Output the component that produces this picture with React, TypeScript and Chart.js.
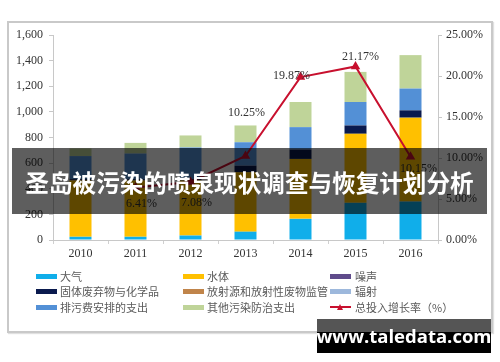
import React, { useEffect, useRef } from "react";
import { Chart, registerables } from "chart.js";

Chart.register(...registerables);

const years = ["2010", "2011", "2012", "2013", "2014", "2015", "2016"];
const air = [25, 25, 35, 65, 165, 290, 300];
const water = [440, 440, 430, 463, 468, 539, 655];
const noise = [0, 0, 0, 0, 0, 0, 0];
const solid = [10, 10, 10, 52, 73, 65, 57];
const radioSource = [0, 0, 0, 0, 0, 0, 0];
const radiation = [0, 0, 0, 0, 0, 0, 0];
const sewageFee = [180, 200, 247, 183, 175, 183, 170];
const otherPollution = [60, 83, 94, 131, 196, 235, 261];
const growthRate = [null, 6.41, 7.08, 10.25, 19.87, 21.17, 10.15];
const growthLabels = ["", "6.41%", "7.08%", "10.25%", "19.87%", "21.17%", "10.15%"];
const labelShift = [
  [0, 0],
  [6, 16],
  [6, 21],
  [1, -43],
  [-9, -1],
  [5, -10],
  [8, 12],
];

const seriesNames = [
  "大气",
  "水体",
  "噪声",
  "固体废弃物与化学品",
  "放射源和放射性废物监管",
  "辐射",
  "排污费安排的支出",
  "其他污染防治支出",
  "总投入增长率（%）",
];
const seriesColors = [
  "#10AEEA",
  "#FFC000",
  "#5F4B8B",
  "#0A1A4E",
  "#C0844A",
  "#9DB8DC",
  "#5390D6",
  "#BFD499",
  "#C00000",
];

const LINE = "#C8102E";

export default function App() {
  const ref = useRef<HTMLCanvasElement | null>(null);

  useEffect(() => {
    document.body.style.margin = "0";
    const barSeries = [air, water, noise, solid, radioSource, radiation, sewageFee, otherPollution];
    const labelPlugin = {
      id: "growthLabels",
      afterDatasetsDraw(chart: any) {
        const meta = chart.getDatasetMeta(8);
        const ctx = chart.ctx;
        ctx.save();
        ctx.font = "12px 'Liberation Serif', serif";
        ctx.fillStyle = "#333333";
        ctx.textAlign = "center";
        ctx.textBaseline = "middle";
        meta.data.forEach((pt: any, i: number) => {
          if (growthRate[i] == null) return;
          ctx.fillText(growthLabels[i], pt.x + labelShift[i][0], pt.y + labelShift[i][1]);
        });
        ctx.restore();
      },
    };
    const tickFont = { family: "'Liberation Serif', serif", size: 12 };
    const chart = new Chart(ref.current as HTMLCanvasElement, {
      type: "bar",
      data: {
        labels: years,
        datasets: [
          ...barSeries.map((d, i) => ({
            type: "bar" as const,
            label: seriesNames[i],
            data: d,
            backgroundColor: seriesColors[i],
            borderWidth: 0,
            yAxisID: "y",
            order: 1,
            barPercentage: 0.4,
            categoryPercentage: 1,
          })),
          {
            type: "line" as const,
            label: seriesNames[8],
            data: growthRate,
            borderColor: LINE,
            backgroundColor: LINE,
            borderWidth: 2,
            pointStyle: "triangle",
            pointRadius: 3.5,
            yAxisID: "y1",
            order: 0,
            spanGaps: false,
          },
        ],
      } as any,
      options: {
        animation: false,
        responsive: false,
        maintainAspectRatio: false,
        layout: { padding: { left: 8, right: 10, top: 35, bottom: 97 } },
        plugins: { legend: { display: false }, tooltip: { enabled: false } },
        scales: {
          x: {
            stacked: true,
            afterFit: (s: any) => {
              s.height = 25;
            },
            grid: { drawOnChartArea: false, drawTicks: true, tickLength: 4, color: "#D0D0D0", offset: true },
            border: { color: "#C8C8C8" },
            ticks: { font: tickFont, color: "#333333", padding: 3 },
          },
          y: {
            stacked: true,
            position: "left",
            min: 0,
            max: 1600,
            afterFit: (s: any) => {
              s.width = 45;
            },
            grid: { drawOnChartArea: false, drawTicks: true, tickLength: 4, color: "#C8C8C8" },
            border: { color: "#C8C8C8" },
            ticks: {
              stepSize: 200,
              font: tickFont,
              color: "#333333",
              padding: 6,
              callback: (v: any) => Number(v).toLocaleString("en-US"),
            },
          },
          y1: {
            position: "right",
            min: 0,
            max: 25,
            afterFit: (s: any) => {
              s.width = 52;
            },
            grid: { drawOnChartArea: false, drawTicks: true, tickLength: 4, color: "#C8C8C8" },
            border: { color: "#C8C8C8" },
            ticks: {
              stepSize: 5,
              font: tickFont,
              color: "#333333",
              padding: 4,
              callback: (v: any) => Number(v).toFixed(2) + "%",
            },
          },
        },
      } as any,
      plugins: [labelPlugin],
    });
    return () => chart.destroy();
  }, []);

  const colX = [[36, 60], [183, 207], [330, 355]];
  const rowY = [276, 291, 307];

  return (
    <div style={{ position: "relative", width: 500, height: 362, background: "#ffffff", overflow: "hidden" }}>
      <div
        style={{
          position: "absolute",
          left: 7,
          top: 21,
          width: 482,
          height: 308,
          border: "2px solid #C9C9C9",
          boxShadow: "1px 1px 1px #E0E0E0",
        }}
      />
      <canvas ref={ref} width={500} height={362} style={{ position: "absolute", left: 0, top: 0, width: 500, height: 362 }} />
      {seriesNames.map((name, i) => {
        const col = i % 3;
        const row = Math.floor(i / 3);
        const isLine = i === 8;
        return (
          <React.Fragment key={name}>
            {isLine ? (
              <div style={{ position: "absolute", left: colX[col][0], top: rowY[row] - 6, width: 21, height: 12 }}>
                <div style={{ position: "absolute", left: 0, top: 5, width: 21, height: 2, background: LINE }} />
                <div
                  style={{
                    position: "absolute",
                    left: 7,
                    top: 3,
                    width: 0,
                    height: 0,
                    borderLeft: "3.5px solid transparent",
                    borderRight: "3.5px solid transparent",
                    borderBottom: "6px solid " + LINE,
                  }}
                />
              </div>
            ) : (
              <div
                style={{
                  position: "absolute",
                  left: colX[col][0],
                  top: rowY[row] - 2.5,
                  width: 21,
                  height: 5,
                  background: seriesColors[i],
                }}
              />
            )}
            <div
              style={{
                position: "absolute",
                left: colX[col][1],
                top: rowY[row] - 8,
                height: 16,
                lineHeight: "16px",
                fontSize: 11,
                color: "#5A5A5A",
                fontFamily: "'Noto Sans CJK SC', sans-serif",
                whiteSpace: "nowrap",
              }}
            >
              {name}
            </div>
          </React.Fragment>
        );
      })}
      <div
        style={{
          position: "absolute",
          left: 12,
          top: 148,
          width: 475,
          height: 66,
          background: "rgba(0,0,0,0.63)",
          display: "flex",
          alignItems: "center",
          justifyContent: "center",
          color: "#ffffff",
          fontFamily: "'Noto Sans CJK SC', sans-serif",
          fontWeight: 700,
          fontSize: 23.6,
          whiteSpace: "nowrap",
          paddingTop: 2,
          boxSizing: "border-box",
        }}
      >
        圣岛被污染的喷泉现状调查与恢复计划分析
      </div>
      <div style={{ position: "absolute", left: 317, top: 319, width: 174, height: 13, background: "#555555" }} />
      <div style={{ position: "absolute", left: 317, top: 332, width: 174, height: 21, background: "#000000" }} />
      <div
        style={{
          position: "absolute",
          left: 317,
          top: 319,
          width: 174,
          height: 34,
          display: "flex",
          alignItems: "center",
          justifyContent: "center",
          color: "#ffffff",
          fontFamily: "'Open Sans', 'Noto Sans', sans-serif",
          fontWeight: 700,
          fontSize: 18.5,
          whiteSpace: "nowrap",
          paddingBottom: 1,
          boxSizing: "border-box",
        }}
      >
        www.taledata.com
      </div>
    </div>
  );
}
